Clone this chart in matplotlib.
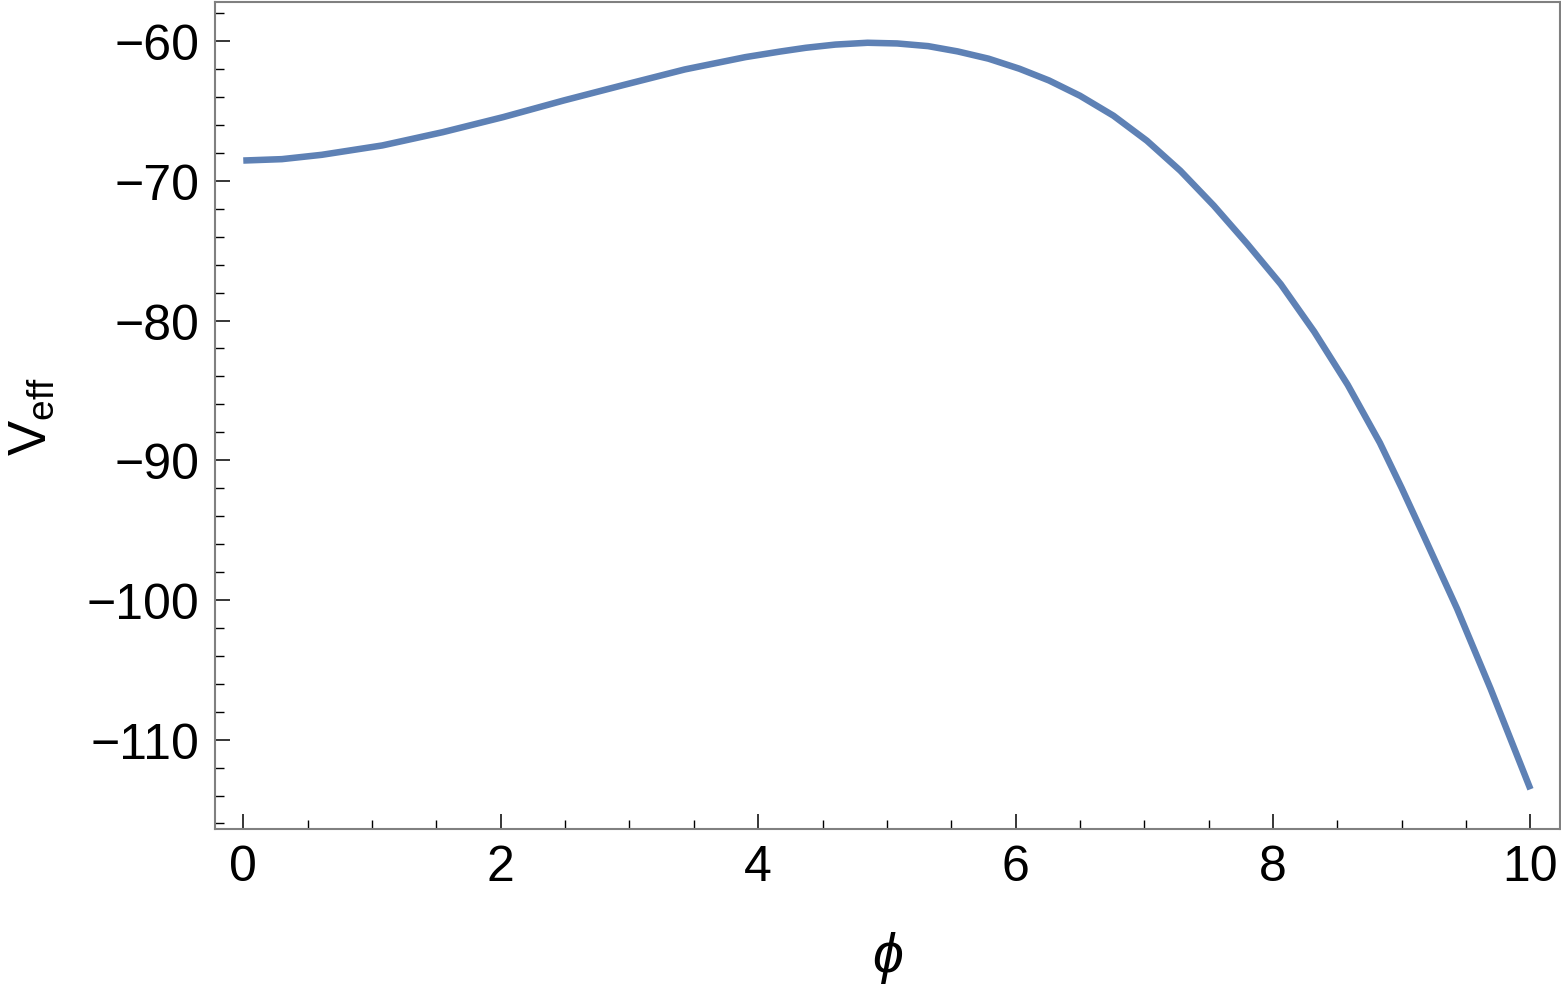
import matplotlib
matplotlib.use("Agg")
import matplotlib.pyplot as plt
from matplotlib.ticker import MultipleLocator

plt.rcParams['font.family'] = ['Liberation Sans', 'DejaVu Sans']
plt.rcParams['mathtext.fontset'] = 'custom'
plt.rcParams['mathtext.rm'] = 'Liberation Sans'
plt.rcParams['mathtext.it'] = 'Liberation Sans:italic'

phi = [0.0, 0.3, 0.61, 1.08, 1.55, 2.02, 2.49, 2.96, 3.43, 3.90, 4.17, 4.37,
       4.6, 4.85, 5.08, 5.32, 5.55, 5.79, 6.03, 6.26, 6.50, 6.76, 7.02,
       7.28, 7.54, 7.80, 8.06, 8.32, 8.58, 8.83, 9.0, 9.17, 9.43, 9.69,
       10.0]
veff = [-68.55, -68.45, -68.14, -67.47, -66.52, -65.44, -64.25, -63.13,
        -62.03, -61.15, -60.75, -60.48, -60.25, -60.12, -60.17, -60.36,
        -60.74, -61.26, -61.98, -62.82, -63.91, -65.34, -67.13, -69.28,
        -71.78, -74.52, -77.4, -80.8, -84.6, -88.75, -92.0, -95.39,
        -100.63, -106.35, -113.55]
xticks = [0, 2, 4, 6, 8, 10]
yticks = [-60, -70, -80, -90, -100, -110]

fig = plt.figure(figsize=(15.61, 9.87), dpi=100)
ax = fig.add_axes([0.1377, 0.159, 0.8617, 0.838])
ax.plot(phi, veff, color='#5E81B5', lw=4.7, solid_capstyle='butt',
        solid_joinstyle='round')

ax.set_xlim(-0.22, 10.23)
ax.set_ylim(-116.4, -57.2)
ax.set_xticks(xticks)
ax.set_yticks(yticks)
ax.set_xticklabels([str(t) for t in xticks])
ax.set_yticklabels(['\u2212' + str(-t) for t in yticks])
ax.xaxis.set_minor_locator(MultipleLocator(0.5))
ax.yaxis.set_minor_locator(MultipleLocator(2))
ax.tick_params(which='both', direction='in', top=False, right=False,
               color='black', labelsize=36)
ax.tick_params(which='major', length=11, width=1.1)
ax.tick_params(which='minor', length=6.5, width=1.0)
ax.tick_params(axis='x', which='major', pad=11)
ax.tick_params(axis='y', which='major', pad=11)
for s in ax.spines.values():
    s.set_color('#808080')
    s.set_linewidth(1.5)

ax.set_xlabel(r'$\phi$', fontsize=40, labelpad=28)
ax.set_ylabel(r'$\mathrm{V}_{\mathrm{eff}}$', fontsize=38, labelpad=22)

fig.savefig('out.png', dpi=100)
